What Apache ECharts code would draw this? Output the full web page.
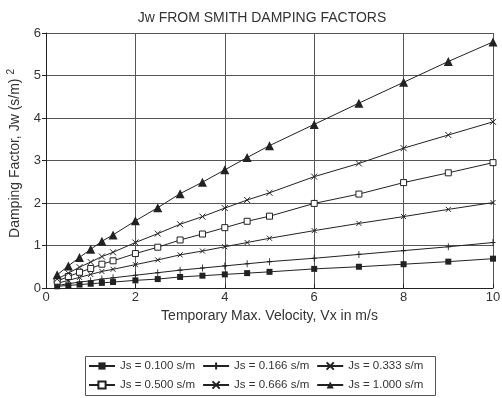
<!DOCTYPE html>
<html><head><meta charset="utf-8">
<script src="https://cdn.jsdelivr.net/npm/echarts@6/dist/echarts.min.js"></script>
<style>html,body{margin:0;padding:0;background:#fff}#c{width:502px;height:398px}</style>
</head><body><div id="c"></div>
<script>
const velocity = [0.25,0.5,0.75,1,1.25,1.5,2,2.5,3,3.5,4,4.5,5,6,7,8,9,10];
const js0100 = [0.04,0.06,0.08,0.10,0.12,0.14,0.18,0.21,0.26,0.29,0.32,0.35,0.38,0.45,0.50,0.56,0.62,0.69];
const js0166 = [0.06,0.10,0.14,0.17,0.21,0.24,0.30,0.36,0.42,0.47,0.52,0.57,0.62,0.70,0.79,0.88,0.97,1.07];
const js0333 = [0.11,0.18,0.25,0.32,0.39,0.44,0.55,0.66,0.78,0.87,0.97,1.07,1.17,1.35,1.52,1.68,1.85,2.01];
const js0500 = [0.16,0.27,0.37,0.46,0.56,0.64,0.81,0.96,1.13,1.27,1.42,1.57,1.69,1.99,2.21,2.48,2.71,2.95];
const js0666 = [0.21,0.35,0.49,0.61,0.74,0.84,1.07,1.28,1.50,1.68,1.88,2.07,2.24,2.62,2.93,3.29,3.60,3.91];
const js1000 = [0.31,0.52,0.72,0.91,1.10,1.25,1.58,1.89,2.22,2.49,2.78,3.07,3.35,3.85,4.35,4.84,5.33,5.79];
const seriesNames = ['Js = 0.100 s/m','Js = 0.166 s/m','Js = 0.333 s/m','Js = 0.500 s/m','Js = 0.666 s/m','Js = 1.000 s/m'];
const seriesValues = [js0100, js0166, js0333, js0500, js0666, js1000];
const chartTitle = 'Jw FROM SMITH DAMPING FACTORS';
const xName = 'Temporary Max. Velocity, Vx in m/s';
const yName = 'Damping Factor, Jw (s/m) {sup|2}';

const ink = '#222';
const font = 'Liberation Sans, Arial, sans-serif';
const styles = [
  {symbol:'rect', symbolSize:6, itemStyle:{color:ink, borderColor:ink, borderWidth:0}},
  {symbol:'path://M0,5 L10,5 M5,0 L5,10', symbolSize:[5,7], itemStyle:{color:ink, borderColor:ink, borderWidth:1}},
  {symbol:'path://M0,0 L10,10 M10,0 L0,10', symbolSize:5, itemStyle:{color:ink, borderColor:ink, borderWidth:1}},
  {symbol:'rect', symbolSize:6, itemStyle:{color:'#fff', borderColor:ink, borderWidth:1}},
  {symbol:'path://M0,0 L10,10 M10,0 L0,10', symbolSize:6, itemStyle:{color:ink, borderColor:ink, borderWidth:1}},
  {symbol:'triangle', symbolSize:9, itemStyle:{color:ink, borderColor:ink, borderWidth:0}}
];

const chart = echarts.init(document.getElementById('c'), null, {renderer:'canvas'});
chart.setOption({
  animation:false,
  backgroundColor:'#fff',
  title:{text:chartTitle, left:257, textAlign:'center', top:6, textStyle:{fontFamily:font, fontSize:14, fontWeight:'normal', color:'#333'}},
  grid:{left:46, right:9, top:33, bottom:110, outerBoundsMode:'none', containLabel:false},
  legend:{
    left:86, top:358, width:345, itemGap:7, itemWidth:26, itemHeight:9, padding:[2,2],
    data:seriesNames,
    textStyle:{fontFamily:font, fontSize:11.5, color:'#333', lineHeight:9}
  },
  graphic:[{type:'rect', shape:{x:85.5, y:356.5, width:350, height:39}, style:{fill:'none', stroke:'#555', lineWidth:1}}],
  xAxis:{
    type:'value', min:0, max:10, interval:2,
    name:xName, nameLocation:'middle', nameGap:19,
    nameTextStyle:{fontFamily:font, fontSize:14, color:'#333'},
    axisLine:{lineStyle:{color:ink, width:1}},
    axisTick:{show:true, inside:true, length:4, lineStyle:{color:ink}},
    axisLabel:{fontFamily:font, fontSize:13, color:'#333', margin:3},
    splitLine:{show:true, lineStyle:{color:'#555', width:1}}
  },
  yAxis:{
    type:'value', min:0, max:6, interval:1,
    name:yName, nameLocation:'middle', nameGap:22, nameRotate:90,
    nameTextStyle:{fontFamily:font, fontSize:14, color:'#333', padding:[0,0,0,14],
      rich:{sup:{fontFamily:font, fontSize:10, color:'#333', padding:[0,0,8,0]}}},
    axisLine:{show:true, lineStyle:{color:ink, width:1}},
    axisTick:{show:true, length:4, lineStyle:{color:ink}},
    axisLabel:{fontFamily:font, fontSize:13, color:'#333', margin:5},
    splitLine:{show:true, lineStyle:{color:'#555', width:1}}
  },
  series: seriesNames.map((n,i)=>Object.assign({
    name:n, type:'line',
    data: velocity.map((v,j)=>[v, seriesValues[i][j]]),
    showSymbol:true, color:ink,
    lineStyle:{color:ink, width:1}
  }, styles[i]))
});
</script></body></html>
